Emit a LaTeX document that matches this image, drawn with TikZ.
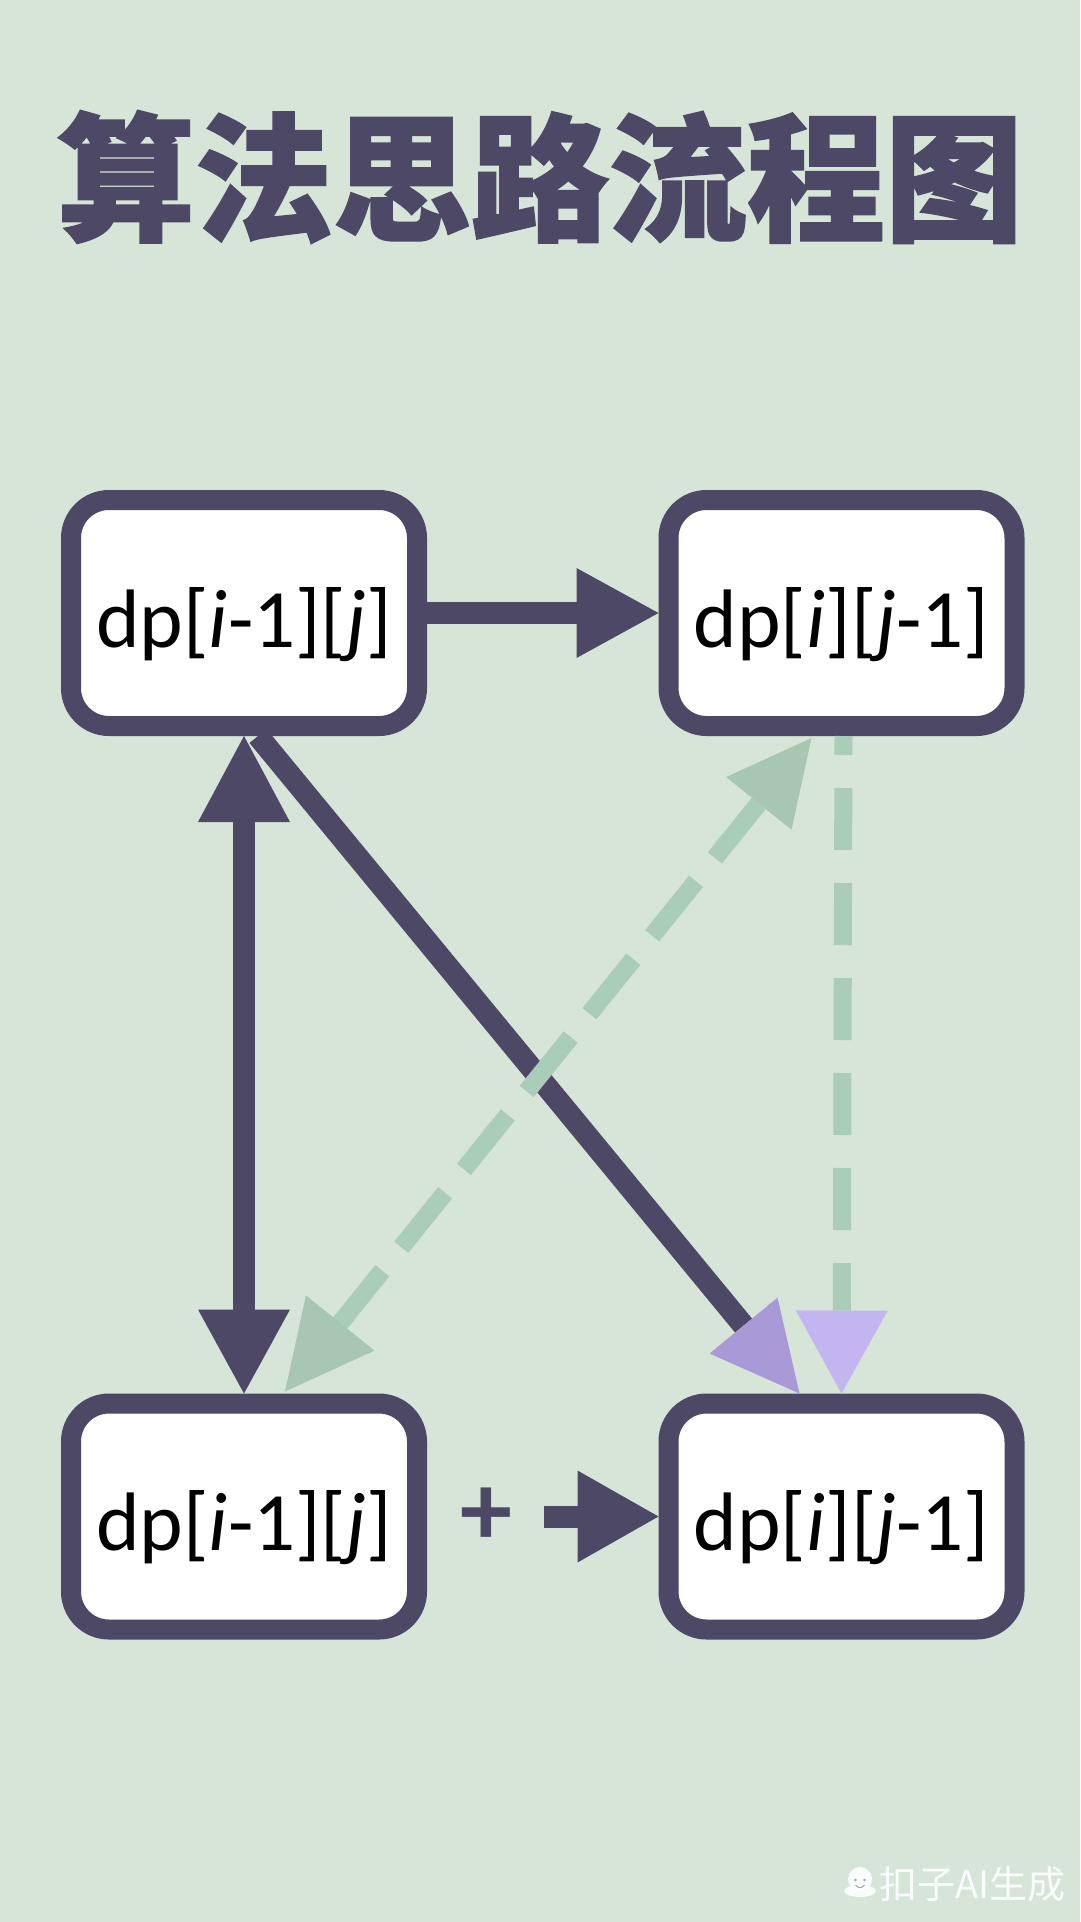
\documentclass[tikz,border=0pt]{standalone}
\usepackage{fontspec}
\setmainfont{Carlito}
\newfontfamily\cjk{Noto Sans CJK SC}[BoldFeatures={FakeBold=1.5}]
\usetikzlibrary{arrows.meta,calc}
\definecolor{bgc}{RGB}{214,229,216}
\definecolor{dark}{RGB}{77,72,102}
\definecolor{gdash}{RGB}{170,205,185}
\definecolor{ghead}{RGB}{168,199,179}
\definecolor{purp}{RGB}{169,153,214}
\definecolor{lav}{RGB}{195,182,240}
\begin{document}
\begin{tikzpicture}[x=1pt,y=-1pt,
  dpbox/.style={draw=dark, line width=20pt, fill=white, rounded corners=38pt,
    minimum width=346pt, minimum height=226pt, inner sep=0pt,
    text height=70pt, text depth=2pt,
    font=\fontsize{83}{90}\selectfont, text=black},
  darr/.style={draw=dark, line width=22pt},
  gline/.style={draw=gdash, line width=18pt}]
\fill[bgc] (0,0) rectangle (1080,1922);
\useasboundingbox (0,0) rectangle (1080,1922);
% title
\node[font=\cjk\bfseries\fontsize{138}{138}\selectfont, text=dark, inner sep=0pt] (title) at (540,177) {算法思路流程图};
% boxes
\node[dpbox] (tl) at (244,613) {dp[\textit{i}-1][\textit{j}]};
\node[dpbox] (tr) at (841.5,613) {dp[\textit{i}][\textit{j}-1]};
\node[dpbox] (bl) at (244,1516.5) {dp[\textit{i}-1][\textit{j}]};
\node[dpbox] (br) at (841.5,1516.5) {dp[\textit{i}][\textit{j}-1]};
% helper coordinates
\coordinate (dA) at ($(tl.south)+(14,0)$);
\coordinate (dB) at ($(br.north)+(-42,0)$);
\coordinate (gA) at ($(tr.south)+(-30,2)$);
\coordinate (gB) at ($(bl.north)+(41,-2)$);
\coordinate (pA) at (544,1516.5);
% top horizontal arrow
\draw[darr, -{Triangle[length=82pt,width=90pt,line width=0pt]}] (tl.east) -- (tr.west);
% vertical double arrow
\draw[darr, {Triangle[length=86pt,width=92pt,line width=0pt]}-{Triangle[length=84pt,width=92pt,line width=0pt]}] (tl.south) -- (bl.north);
% solid diagonal
\draw[darr, -{Triangle[length=88pt,width=88pt,line width=0pt,color=purp]}] (dA) -- (dB);
% green dashed vertical
\draw[gline, dash pattern=on 62pt off 33pt, dash phase=43pt, -{Triangle[length=83pt,width=92pt,line width=0pt,color=lav]}] ($(tr.south)+(2,0)$) -- ($(br.north)+(0,0)$);
% green dashed diagonal
\draw[gline, dash pattern=on 70pt off 30pt, {Triangle[length=84pt,width=84pt,line width=0pt,color=ghead]}-{Triangle[length=88pt,width=88pt,line width=0pt,color=ghead]}] (gA) -- (gB);
% plus and bottom arrow
\node[text=dark, font=\bfseries\fontsize{104}{104}\selectfont, inner sep=0pt] (plus) at (486,1517) {+};
\draw[darr, -{Triangle[length=81pt,width=92pt,line width=0pt]}] (pA) -- (br.west);
% watermark
\fill[white, opacity=0.9] (860,1879) circle (12);
\fill[white, opacity=0.9] (860,1891) ellipse (16 and 6);
\fill[gray!70] (855.5,1880) circle (1.4) (864.5,1880) circle (1.4);
\draw[gray!70, line width=1pt] (855.5,1885) .. controls (858,1888.5) and (862,1888.5) .. (864.5,1885);
\node[font=\cjk\fontsize{38}{38}\selectfont, text=white, opacity=0.9, anchor=west, inner sep=0pt] (wm) at (879,1884) {扣子AI生成};
\end{tikzpicture}
\end{document}
